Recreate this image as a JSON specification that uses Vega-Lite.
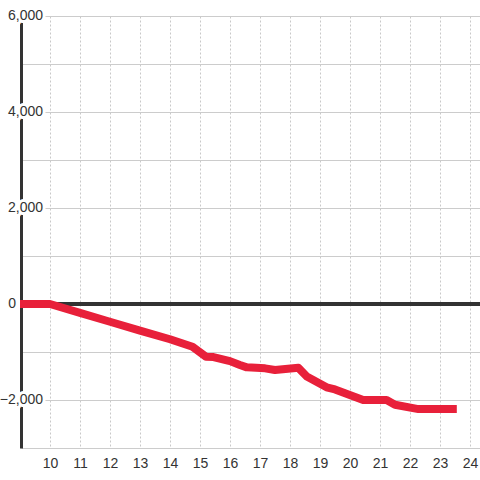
{
  "$schema": "https://vega.github.io/schema/vega-lite/v6.json",
  "width": 460,
  "height": 432,
  "autosize": {"type": "none"},
  "padding": {"left": 20, "top": 16, "right": 0, "bottom": 32},
  "background": "white",
  "config": {
    "view": {"stroke": null},
    "font": "Liberation Sans",
    "axisY": {
      "title": null,
      "labels": false,
      "ticks": false,
      "grid": true,
      "gridColor": "#cccccc",
      "gridWidth": 1,
      "domain": true,
      "domainColor": "#333333",
      "domainWidth": 3,
      "offset": -1
    },
    "axisX": {
      "title": null,
      "grid": true,
      "gridColor": "#c8c8c8",
      "gridDash": [2, 2],
      "gridWidth": 1,
      "domain": false,
      "ticks": false,
      "tickSize": 0,
      "labelPadding": 8,
      "labelFontSize": 14,
      "labelColor": "#333333",
      "labelFont": "Liberation Sans",
      "labelOverlap": false
    }
  },
  "datasets": {
    "series": [
      {"x": 9, "y": 0},
      {"x": 10, "y": 0},
      {"x": 11, "y": -185},
      {"x": 12, "y": -370},
      {"x": 13, "y": -555},
      {"x": 14, "y": -735},
      {"x": 14.75, "y": -890},
      {"x": 15.2, "y": -1100},
      {"x": 15.45, "y": -1105},
      {"x": 16.0, "y": -1190},
      {"x": 16.33, "y": -1270},
      {"x": 16.56, "y": -1320},
      {"x": 17.17, "y": -1340},
      {"x": 17.5, "y": -1375},
      {"x": 18.28, "y": -1330},
      {"x": 18.56, "y": -1510},
      {"x": 19.22, "y": -1735},
      {"x": 19.5, "y": -1780},
      {"x": 20.44, "y": -2000},
      {"x": 21.22, "y": -2000},
      {"x": 21.5, "y": -2100},
      {"x": 22.28, "y": -2190},
      {"x": 23.56, "y": -2190}
    ],
    "labels": [
      {"v": 6000},
      {"v": 4000},
      {"v": 2000},
      {"v": 0},
      {"v": -2000}
    ]
  },
  "encoding": {
    "x": {
      "type": "quantitative",
      "scale": {"domain": [9, 24.3333], "nice": false, "zero": false},
      "axis": {"values": [10, 11, 12, 13, 14, 15, 16, 17, 18, 19, 20, 21, 22, 23, 24], "title": null}
    },
    "y": {
      "type": "quantitative",
      "scale": {"domain": [-3000, 6000], "nice": false, "zero": false},
      "axis": {"values": [-3000, -2000, -1000, 0, 1000, 2000, 3000, 4000, 5000, 6000], "title": null}
    }
  },
  "layer": [
    {
      "data": {"name": "series"},
      "mark": {"type": "rule", "color": "#333333", "strokeWidth": 3},
      "encoding": {
        "y": {"datum": 0, "type": "quantitative"}
      }
    },
    {
      "data": {"name": "labels"},
      "transform": [{"filter": "datum.v != 0"}],
      "mark": {"type": "text", "align": "right", "baseline": "middle", "fontSize": 14, "font": "Liberation Sans", "fill": "white", "stroke": "white", "strokeWidth": 6, "strokeJoin": "round"},
      "encoding": {
        "x": {"datum": 9.7667, "type": "quantitative"},
        "y": {"field": "v", "type": "quantitative"},
        "text": {"field": "v", "type": "quantitative", "format": ","}
      }
    },
    {
      "data": {"name": "labels"},
      "transform": [{"filter": "datum.v != 0"}],
      "mark": {"type": "text", "align": "right", "baseline": "middle", "fontSize": 14, "font": "Liberation Sans", "fill": "#333333"},
      "encoding": {
        "x": {"datum": 9.7667, "type": "quantitative"},
        "y": {"field": "v", "type": "quantitative"},
        "text": {"field": "v", "type": "quantitative", "format": ","}
      }
    },
    {
      "data": {"name": "labels"},
      "transform": [{"filter": "datum.v == 0"}],
      "mark": {"type": "text", "align": "right", "baseline": "middle", "fontSize": 14, "font": "Liberation Sans", "fill": "#333333"},
      "encoding": {
        "x": {"datum": 8.8667, "type": "quantitative"},
        "y": {"field": "v", "type": "quantitative"},
        "text": {"field": "v", "type": "quantitative", "format": ","}
      }
    },
    {
      "data": {"name": "series"},
      "mark": {"type": "line", "color": "#e8203a", "strokeWidth": 8, "strokeCap": "butt", "strokeJoin": "round"},
      "encoding": {
        "x": {"field": "x", "type": "quantitative"},
        "y": {"field": "y", "type": "quantitative"}
      }
    }
  ]
}
